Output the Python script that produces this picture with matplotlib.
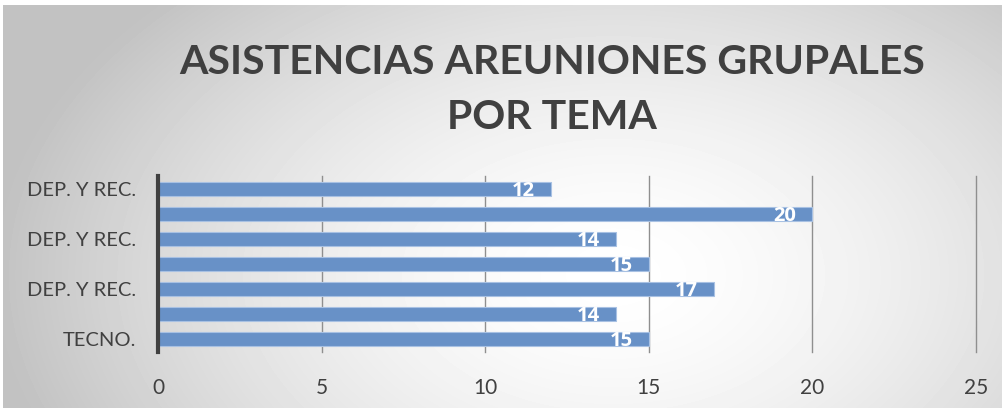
import numpy as np
import matplotlib
matplotlib.use('Agg')
import matplotlib.pyplot as plt

# Data (top to bottom)
categorias = ['DEP. Y REC.', '', 'DEP. Y REC.', '', 'DEP. Y REC.', '', 'TECNO.']
asistencias = [12, 20, 14, 15, 17, 14, 15]
xticks = [0, 5, 10, 15, 20, 25]
titulo = 'ASISTENCIAS AREUNIONES GRUPALES\nPOR TEMA'

title_font = 'Lato'
body_font = 'Lato'
label_font = 'Open Sans'

W, H = 1007, 408
fig = plt.figure(figsize=(W / 100, H / 100), dpi=100)
fig.patch.set_facecolor('white')

# radial gradient background of the chart area
bg = fig.add_axes([3 / W, 0, 999 / W, 403 / H], zorder=0)
yy, xx = np.mgrid[0:403, 0:999]
d = np.sqrt(((xx - 610) / 620.0) ** 2 + ((yy - 270) / 400.0) ** 2)
d = np.clip(d, 0, 1) ** 1.6
grad = 1.0 - (1.0 - 0.76) * d
bg.imshow(grad, cmap='gray', vmin=0, vmax=1, aspect='auto', interpolation='bilinear')
bg.set_axis_off()

ax = fig.add_axes([158 / W, 56 / H, 818 / W, 176 / H], zorder=1)
ax.patch.set_alpha(0)
ypos = np.arange(len(asistencias))
ax.barh(ypos, asistencias, height=0.56, color='#6891c7', edgecolor='#a8c1e3',
        linewidth=0.8, zorder=3)
ax.set_ylim(len(asistencias) - 0.5, -0.5)
ax.set_xlim(0, 25)
ax.set_xticks(xticks)
ax.set_xticklabels([str(t) for t in xticks], fontsize=15, color='#404040',
                   family=body_font)
ax.set_yticks(ypos)
ax.set_yticklabels(categorias, fontsize=14.5, color='#404040', family=body_font)
ax.tick_params(axis='both', length=0)
ax.tick_params(axis='x', pad=19)
ax.tick_params(axis='y', pad=16)
ax.grid(axis='x', color='#8f8f8f', linewidth=1, zorder=1)
for gl in ax.get_xgridlines():
    gl.set_clip_on(False)
for s in ['top', 'right', 'bottom']:
    ax.spines[s].set_visible(False)
ax.spines['left'].set_color('#404040')
ax.spines['left'].set_linewidth(3)
ax.spines['left'].set_zorder(4)

for y, v in zip(ypos, asistencias):
    ax.annotate(str(v), (v, y), xytext=(-16, -2), textcoords='offset pixels',
                ha='right', va='center', color='white', fontsize=14.5,
                fontweight='bold', family=label_font, zorder=5)

fig.text(552 / W, 1 - 90 / H, titulo, ha='center', va='center', fontsize=29.5,
         fontweight='bold', color='#404040', family=title_font, linespacing=1.6)

fig.savefig('out.png', dpi=100)
